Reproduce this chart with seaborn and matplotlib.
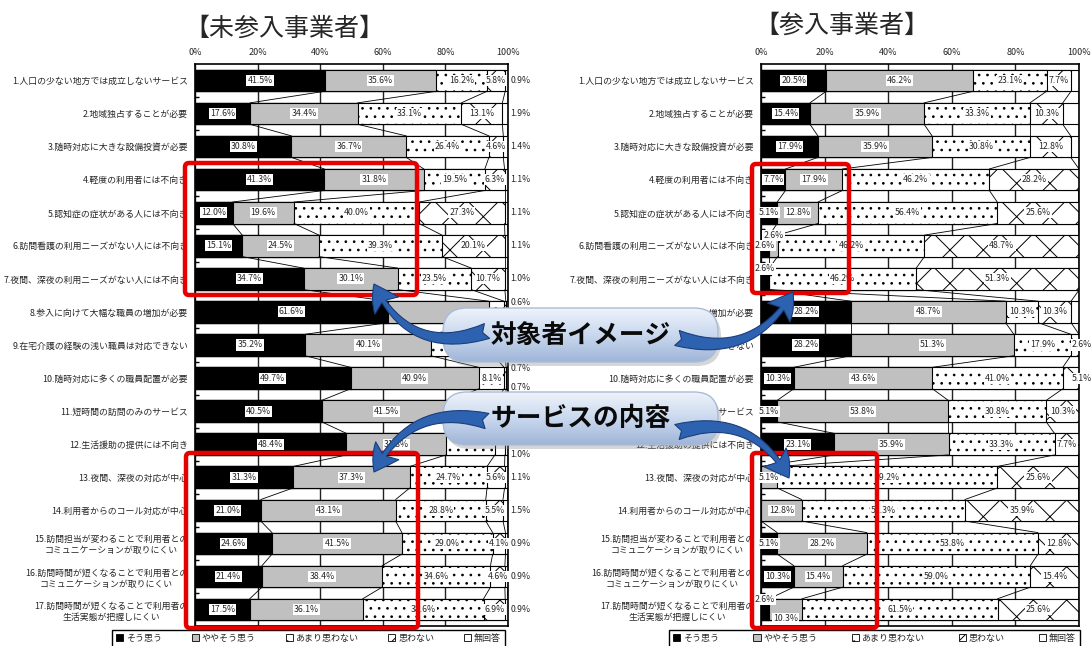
import numpy as np
import pandas as pd
import seaborn as sns
import matplotlib.pyplot as plt
from matplotlib.colors import LinearSegmentedColormap
from matplotlib.patches import FancyBboxPatch, FancyArrowPatch, Patch

items = [
    '1.人口の少ない地方では成立しないサービス',
    '2.地域独占することが必要',
    '3.随時対応に大きな設備投資が必要',
    '4.軽度の利用者には不向き',
    '5.認知症の症状がある人には不向き',
    '6.訪問看護の利用ニーズがない人には不向き',
    '7.夜間、深夜の利用ニーズがない人には不向き',
    '8.参入に向けて大幅な職員の増加が必要',
    '9.在宅介護の経験の浅い職員は対応できない',
    '10.随時対応に多くの職員配置が必要',
    '11.短時間の訪問のみのサービス',
    '12.生活援助の提供には不向き',
    '13.夜間、深夜の対応が中心',
    '14.利用者からのコール対応が中心',
    '15.訪問担当が変わることで利用者との\nコミュニケーションが取りにくい',
    '16.訪問時間が短くなることで利用者との\nコミュニケーションが取りにくい',
    '17.訪問時間が短くなることで利用者の\n生活実態が把握しにくい',
]
answers = ['そう思う', 'ややそう思う', 'あまり思わない', '思わない', '無回答']

# 未参入事業者 (%)
non_agree = [41.5, 17.6, 30.8, 41.3, 12.0, 15.1, 34.7, 61.6, 35.2, 49.7, 40.5, 48.4, 31.3, 21.0, 24.6, 21.4, 17.5]
non_some = [35.6, 34.4, 36.7, 31.8, 19.6, 24.5, 30.1, 32.2, 40.1, 40.9, 41.5, 31.8, 37.3, 43.1, 41.5, 38.4, 36.1]
non_notmuch = [16.2, 33.1, 26.4, 19.5, 40.0, 39.3, 23.5, 4.9, 20.3, 8.1, 14.5, 15.6, 24.7, 28.8, 29.0, 34.6, 38.6]
non_disagree = [5.8, 13.1, 4.6, 6.3, 27.3, 20.1, 10.7, 0.6, 3.5, 0.7, 2.7, 3.2, 5.6, 5.5, 4.1, 4.6, 6.9]
non_noans = [0.9, 1.9, 1.4, 1.1, 1.1, 1.1, 1.0, 0.7, 0.9, 0.7, 0.8, 1.0, 1.1, 1.5, 0.9, 0.9, 0.9]

# 参入事業者 (%)
ent_agree = [20.5, 15.4, 17.9, 7.7, 5.1, 2.6, 2.6, 28.2, 28.2, 10.3, 5.1, 23.1, 0.0, 0.0, 5.1, 10.3, 2.6]
ent_some = [46.2, 35.9, 35.9, 17.9, 12.8, 2.6, 0.0, 48.7, 51.3, 43.6, 53.8, 35.9, 5.1, 12.8, 28.2, 15.4, 10.3]
ent_notmuch = [23.1, 33.3, 30.8, 46.2, 56.4, 46.2, 46.2, 10.3, 17.9, 41.0, 30.8, 33.3, 69.2, 51.3, 53.8, 59.0, 61.5]
ent_disagree = [7.7, 10.3, 12.8, 28.2, 25.6, 48.7, 51.3, 10.3, 2.6, 5.1, 10.3, 7.7, 25.6, 35.9, 12.8, 15.4, 25.6]
ent_noans = [2.6, 5.1, 2.6, 0.0, 0.0, 0.0, 0.0, 2.6, 0.0, 0.0, 0.0, 0.0, 0.0, 0.0, 0.0, 0.0, 0.0]

callouts = ['対象者イメージ', 'サービスの内容']

sns.set_theme(style='white')
plt.rcParams['font.family'] = ['Noto Sans CJK JP', 'DejaVu Sans']
plt.rcParams['hatch.linewidth'] = 0.7
plt.rcParams['hatch.color'] = '#333333'

fills = ['black', '#c0c0c0', 'white', 'white', 'white']
hatches = [None, None, '..', 'x', None]

W, H = 1092, 646
# callout boxes in pixel coords (x0, y0, x1, y1)
callout_boxes = [(443, 308, 718, 362), (443, 392, 718, 445)]

fig = plt.figure(figsize=(W / 100, H / 100), dpi=100)


def px_axes(x0, x1, y0, y1):
    return fig.add_axes([x0 / W, 1 - y1 / H, (x1 - x0) / W, (y1 - y0) / H])


def hidden(ax, x, y):
    # label would sit under one of the callout boxes
    px, py = ax.transData.transform((x, y))
    py = H - py
    return any(x0 - 5 <= px <= x1 and y0 <= py <= y1 for x0, y0, x1, y1 in callout_boxes)


def draw_panel(ax, vals, entrant):
    df = pd.DataFrame(dict(zip(answers, vals)), index=items)
    cum = df.cumsum(axis=1)
    # stacked bars: draw cumulative totals from the last answer back to the first
    for k in reversed(range(5)):
        sns.barplot(x=cum.iloc[:, k].values, y=items, orient='y', color=fills[k],
                    saturation=1, hatch=hatches[k], edgecolor='black', linewidth=0.8,
                    width=0.65, errorbar=None, ax=ax)
    n = len(items)
    # series lines between bars
    for k in range(5):
        for i in range(n - 1):
            ax.plot([cum.iat[i, k], cum.iat[i + 1, k]], [i + 0.325, i + 1 - 0.325],
                    color='black', lw=0.6, zorder=2)
    ax.set_xlim(0, 100)
    ax.set_ylim(n - 0.5, -0.5)

    box = dict(boxstyle='square,pad=0.12', fc='white', ec='none')
    for i in range(n):
        for k in range(5):
            v = df.iat[i, k]
            if v == 0:
                continue
            mid = cum.iat[i, k] - v / 2
            x, y, ha = mid, i, 'center'
            if entrant:
                if k == 4:
                    continue
                if k == 3 and v < 6:
                    x = 101
                elif k == 0 and v < 4 and not (0 < df.iat[i, 1] < 4):
                    y = i - 0.3
                elif k == 1 and v < 4:
                    y = i - 0.3
                elif k == 1 and 0 < df.iat[i, 0] < 4:
                    y = i + 0.28
            else:
                if k == 4:
                    x, ha = 100.8, 'left'
                    if df.iat[i, 3] < 4:
                        y = i + 0.3
                elif k == 3 and v < 4:
                    x, ha, y = 100.8, 'left', i - 0.3
            if hidden(ax, x + (3 if ha == 'left' else 0), y):
                continue
            ax.text(x, y, f'{v:.1f}%', ha=ha, va='center', fontsize=6.3,
                    bbox=box if ha == 'center' else None, zorder=4, clip_on=False)

    ax.xaxis.tick_top()
    ax.set_xticks(range(0, 101, 20))
    ax.set_xticklabels([f'{t}%' for t in range(0, 101, 20)], fontsize=6.5)
    ax.tick_params(axis='x', length=0, pad=5)
    ax.tick_params(axis='y', length=0, pad=5, labelsize=6.4)
    ax.set_yticks(np.arange(n - 1) + 0.5, minor=True)
    ax.tick_params(axis='y', which='minor', length=3, direction='in', color='black', left=True)
    plt.setp(ax.get_yticklabels(), multialignment='center', linespacing=1.3)
    ax.set_axisbelow(True)
    ax.xaxis.grid(True, color='#222222', lw=1.0)
    ax.yaxis.grid(False)
    for s in ax.spines.values():
        s.set_color('black')
        s.set_linewidth(1.2)
    ax.set(xlabel='', ylabel='')


ax1 = px_axes(195, 508, 64, 626)
draw_panel(ax1, [non_agree, non_some, non_notmuch, non_disagree, non_noans], False)
ax2 = px_axes(761, 1079, 64, 626)
draw_panel(ax2, [ent_agree, ent_some, ent_notmuch, ent_disagree, ent_noans], True)

fig.text(284 / W, 1 - 29 / H, '【未参入事業者】', ha='center', va='center', fontsize=18)
fig.text(842 / W, 1 - 26 / H, '【参入事業者】', ha='center', va='center', fontsize=18)

handles = [Patch(fc=fills[k], ec='black', hatch=hatches[k], lw=0.6, label=answers[k]) for k in range(5)]
for x0, x1 in [(112, 505), (669, 1080)]:
    leg = fig.legend(handles=handles, ncol=5, mode='expand', loc='upper left',
                     bbox_to_anchor=(x0 / W, 1 - 630 / H - 0.04, (x1 - x0) / W, 0.04),
                     fontsize=6.5, handlelength=0.8, handleheight=0.8, handletextpad=0.3,
                     frameon=True, fancybox=False, edgecolor='black', framealpha=1,
                     borderpad=0.45, borderaxespad=0)
    leg.get_frame().set_linewidth(1.0)

# overlay in pixel coordinates for the highlight frames and callouts
ov = fig.add_axes([0, 0, 1, 1], zorder=10)
ov.patch.set_alpha(0)

for (x0, y0, x1, y1) in [(185, 163, 417, 295), (186, 453, 418, 628),
                         (752, 164, 849, 293), (752, 453, 877, 628)]:
    ov.add_patch(FancyBboxPatch((x0, y0), x1 - x0, y1 - y0,
                                boxstyle='round,pad=0,rounding_size=4',
                                fill=False, ec='#e60000', lw=3.2, zorder=3))

cmap = LinearSegmentedColormap.from_list('callout', ['#eef3fb', '#c9d8ee', '#9fb5d8'])
grad = np.linspace(0, 1, 100).reshape(-1, 1)
for text, (x0, y0, x1, y1) in zip(callouts, callout_boxes):
    ov.add_patch(FancyBboxPatch((x0 + 3, y0 + 4), x1 - x0, y1 - y0,
                                boxstyle='round,pad=0,rounding_size=24',
                                fc='#8a8a8a', ec='none', alpha=0.35, zorder=4))
    bx = FancyBboxPatch((x0, y0), x1 - x0, y1 - y0, boxstyle='round,pad=0,rounding_size=24',
                        fc='none', ec='#aabbd6', lw=1, zorder=6)
    ov.add_patch(bx)
    im = ov.imshow(grad, cmap=cmap, extent=(x0, x1, y1, y0), origin='upper',
                   aspect='auto', zorder=5)
    im.set_clip_path(bx)
    ov.text((x0 + x1) / 2, (y0 + y1) / 2, text, ha='center', va='center',
            fontsize=18.5, fontweight='bold', color='#0a0a0a', zorder=7)

for (a, b, rad) in [((487, 331), (374, 284), -0.45), ((677, 338), (793, 292), 0.4),
                    ((487, 421), (374, 472), 0.4), ((677, 432), (789, 478), -0.4)]:
    ov.add_patch(FancyArrowPatch(a, b, connectionstyle=f'arc3,rad={rad}',
                                 arrowstyle='fancy,head_length=1.2,head_width=1.4,tail_width=0.75',
                                 mutation_scale=15, fc='#2d62b0', ec='#1b3d7a', lw=0.8,
                                 shrinkA=0, shrinkB=0, zorder=8))

ov.set_xlim(0, W)
ov.set_ylim(H, 0)
ov.axis('off')

fig.savefig('out.png', dpi=100)
